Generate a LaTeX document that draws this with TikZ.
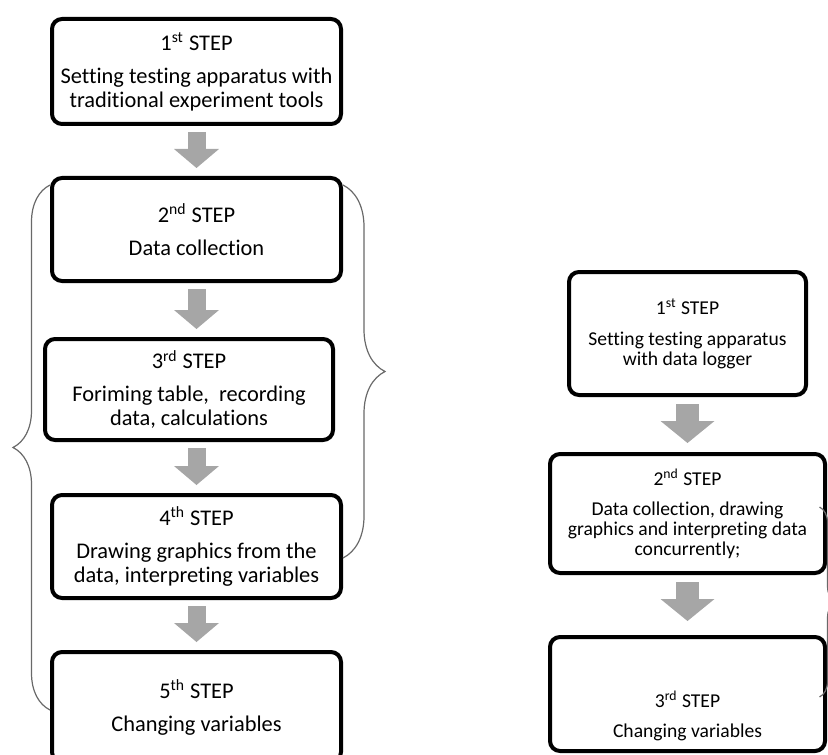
\documentclass[tikz,border=0pt]{standalone}
\usepackage{fontspec}
\setmainfont{Carlito}[Ligatures=NoCommon]
\usepackage{tikz}
\usetikzlibrary{positioning,arrows.meta,decorations.pathreplacing,calc}
\definecolor{arrowgray}{RGB}{166,166,166}
\definecolor{bracegray}{RGB}{105,105,105}

\begin{document}
\begin{tikzpicture}[x=0.5pt, y=-0.5pt,
    stepbox/.style={draw, line width=2pt, rounded corners=5pt, fill=white, inner sep=0pt, align=center},
    bigfont/.style={font=\fontsize{11.2}{12}\selectfont},
    smallfont/.style={font=\fontsize{9.8}{10}\selectfont},
    flowarrow/.style={arrowgray, line width=9pt, -{Triangle[length=9.5pt, width=22.5pt, line width=0pt]}, shorten <=3pt, shorten >=4pt},
    bigarrow/.style={arrowgray, line width=11.5pt, -{Triangle[length=11pt, width=27pt, line width=0pt]}, shorten <=3.5pt, shorten >=4.5pt},
    grouping/.style={decorate, bracegray, line width=0.6pt}]
    \useasboundingbox (0,0) rectangle (828,754);
    \clip (0,0) rectangle (828,754);

    % Traditional tools, five steps
    \node[stepbox, bigfont, minimum width=144.5pt, minimum height=52.5pt] (b1) at (196.5,71.5) {
        1\textsuperscript{st} STEP\\[4.5pt]
        Setting testing apparatus with\\
        traditional experiment tools};
    \node[stepbox, bigfont, minimum width=144.5pt, minimum height=51.5pt] (b2) at (196.5,229.5) {
        2\textsuperscript{nd} STEP\\[4.5pt]
        Data collection};
    \node[stepbox, bigfont, minimum width=144pt, minimum height=50.5pt] (b3) at (189,389.5) {
        3\textsuperscript{rd} STEP\\[4.5pt]
        Foriming table,\ \ recording\\
        data, calculations};
    \node[stepbox, bigfont, minimum width=144.5pt, minimum height=51.5pt] (b4) at (196.5,546.5) {
        4\textsuperscript{th} STEP\\[4.5pt]
        Drawing graphics from the\\
        data, interpreting variables};
    \node[stepbox, bigfont, minimum width=144.5pt, minimum height=55pt] (b5) at (196.5,707) {
        5\textsuperscript{th} STEP\\[4.5pt]
        Changing variables};

    \draw[flowarrow] (b1.south) -- (b1.south |- b2.north);
    \draw[flowarrow] (b2.south) -- (b2.south |- b3.north);
    \draw[flowarrow] (b3.south -| b2.south) -- (b2.south |- b4.north);
    \draw[flowarrow] (b4.south) -- (b4.south |- b5.north);

    % Braces round the middle steps
    \draw[grouping, decoration={brace, amplitude=18.5pt}]
        ([yshift=-1.5pt]b5.west) -- ([yshift=-4.5pt]b2.north west);
    \draw[grouping, decoration={brace, amplitude=21pt}]
        ([yshift=-4.5pt]b2.north east) -- ([yshift=-5.75pt]b4.east);

    % Data logger, three steps
    \node[stepbox, smallfont, minimum width=118.5pt, minimum height=61.5pt] (r1) at (687.5,333.5) {
        1\textsuperscript{st} STEP\\[5.5pt]
        Setting testing apparatus\\
        with data logger};
    \node[stepbox, smallfont, minimum width=137.5pt, minimum height=59.5pt] (r2) at (687.5,513.5) {
        2\textsuperscript{nd} STEP\\[5pt]
        Data collection, drawing\\
        graphics and interpreting data\\
        concurrently;};
    \node[stepbox, smallfont, minimum width=137.5pt, minimum height=57pt] (r3) at (687.5,694) {
        \mbox{}\\[20pt]
        3\textsuperscript{rd} STEP\\[5pt]
        Changing variables};

    \draw[bigarrow] (r1.south) -- (r1.south |- r2.north);
    \draw[bigarrow, shorten >=7pt] (r2.south) -- (r2.south |- r3.north);

    \draw[grouping, decoration={brace, amplitude=8pt}]
        ([xshift=-3.75pt, yshift=3.25pt]r2.east) -- ([xshift=-3.75pt, yshift=-1.5pt]r3.east);
\end{tikzpicture}
\end{document}
